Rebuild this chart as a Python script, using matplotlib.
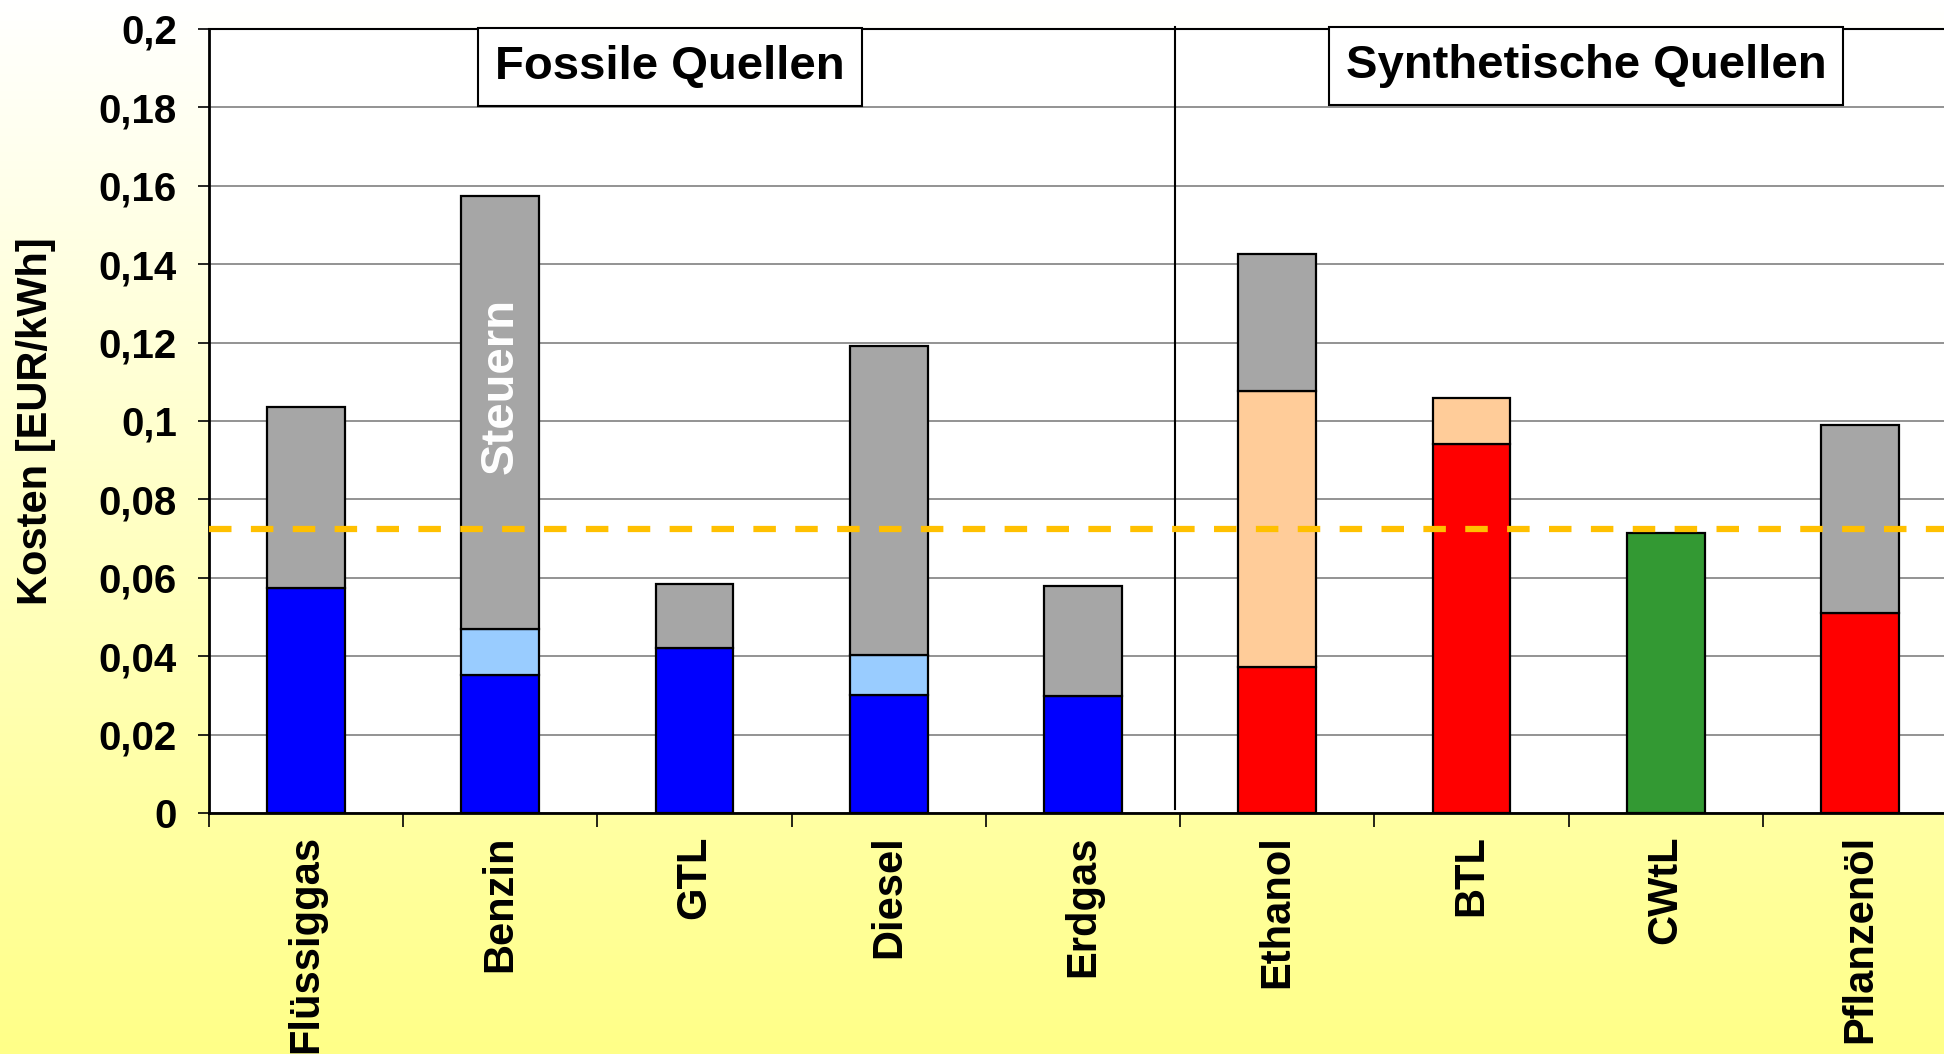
import numpy as np
import matplotlib
matplotlib.use('Agg')
import matplotlib.pyplot as plt
from matplotlib.colors import LinearSegmentedColormap

plt.rcParams['font.family'] = ['Liberation Sans', 'DejaVu Sans']
plt.rcParams['font.weight'] = 'bold'

# Daten (EUR/kWh)
kategorien = ['Flüssiggas', 'Benzin', 'GTL', 'Diesel', 'Erdgas',
              'Ethanol', 'BTL', 'CWtL', 'Pflanzenöl']
fossil = [0.0573, 0.0353, 0.0422, 0.0302, 0.0299, 0, 0, 0, 0]
veredelung = [0, 0.0116, 0, 0.0101, 0, 0, 0, 0, 0]
rohstoff_bio = [0, 0, 0, 0, 0, 0.0372, 0.0942, 0, 0.0510]
herstellung_bio = [0, 0, 0, 0, 0, 0.0705, 0.0116, 0, 0]
cwtl = [0, 0, 0, 0, 0, 0, 0, 0.0715, 0]
steuern = [0.0463, 0.1106, 0.0161, 0.0788, 0.0281, 0.0350, 0, 0, 0.0479]
referenz = 0.0724

serien = [(fossil, '#0000ff'), (veredelung, '#99ccff'),
          (rohstoff_bio, '#ff0000'), (herstellung_bio, '#ffcc99'),
          (cwtl, '#339933'), (steuern, '#a6a6a6')]

fig = plt.figure(figsize=(19.44, 10.54), dpi=100)

# Hintergrund: Verlauf weiss -> gelb
bg = fig.add_axes([0, 0, 1, 1], zorder=-10)
verlauf = np.linspace(0, 1, 256).reshape(-1, 1)
cmap = LinearSegmentedColormap.from_list('bg', ['#ffffff', '#ffff88'])
bg.imshow(verlauf, aspect='auto', cmap=cmap, extent=[0, 1, 0, 1], origin='upper')
bg.axis('off')

ax = fig.add_axes([0.1075, 0.2287, 0.8992, 0.7438])
ax.set_facecolor('white')

x = np.arange(len(kategorien))
unten = np.zeros(len(kategorien))
for werte, farbe in serien:
    werte = np.array(werte)
    m = werte > 0
    ax.bar(x[m], werte[m], 0.4, bottom=unten[m], color=farbe,
           edgecolor='black', linewidth=1.6, zorder=3)
    unten = unten + werte

ax.axhline(referenz, color='#ffc000', lw=4.5, dashes=(3.6, 3.1), zorder=6)

ax.set_xlim(-0.5, len(kategorien) - 0.5)
ax.set_ylim(0, 0.2)

# Achsen
ax.set_axisbelow(True)
ax.yaxis.grid(True, color='#808080', lw=1.2)
ax.spines['right'].set_visible(False)
for s in ['top', 'left', 'bottom']:
    ax.spines[s].set_color('black')
ax.spines['top'].set_linewidth(1.5)
ax.spines['left'].set_linewidth(2)
ax.spines['bottom'].set_linewidth(2)

ax.set_xticks(np.arange(-0.5, len(kategorien), 1))
ax.set_xticklabels([])
ax.set_xticks(x, minor=True)
ax.set_xticklabels(kategorien, minor=True, rotation=90, fontsize=30,
                   fontweight='bold', va='top')
ax.tick_params(axis='x', which='major', length=10, width=1.2)
ax.tick_params(axis='x', which='minor', length=0, pad=16)

yt = np.round(np.arange(0, 0.2001, 0.02), 2)
ax.set_yticks(yt)
ax.set_yticklabels(['{:g}'.format(v).replace('.', ',') for v in yt],
                   fontsize=29, fontweight='bold')
ax.tick_params(axis='y', length=8, width=1.2, pad=15)

ax.set_ylabel('Kosten [EUR/kWh]', fontsize=30, fontweight='bold')
ax.yaxis.set_label_coords(-0.0875, 0.5)

# Trennlinie zwischen fossilen und synthetischen Quellen
ax.axvline(4.474, ymin=0.005, ymax=1.002, color='black', lw=1.5,
           clip_on=False, zorder=4)

box = dict(boxstyle='square,pad=0.36', fc='white', ec='black', lw=1.5)
ax.text(1.874, 0.1903, 'Fossile Quellen', ha='center', va='center',
        fontsize=34, fontweight='bold', bbox=box, zorder=7)
ax.text(6.59, 0.1906, 'Synthetische Quellen', ha='center', va='center',
        fontsize=34, fontweight='bold', bbox=box, zorder=7)

ax.text(1, 0.109, 'Steuern', rotation=90, color='white', fontsize=34,
        fontweight='bold', ha='center', va='center', zorder=5)

fig.savefig('out.png', dpi=100)
